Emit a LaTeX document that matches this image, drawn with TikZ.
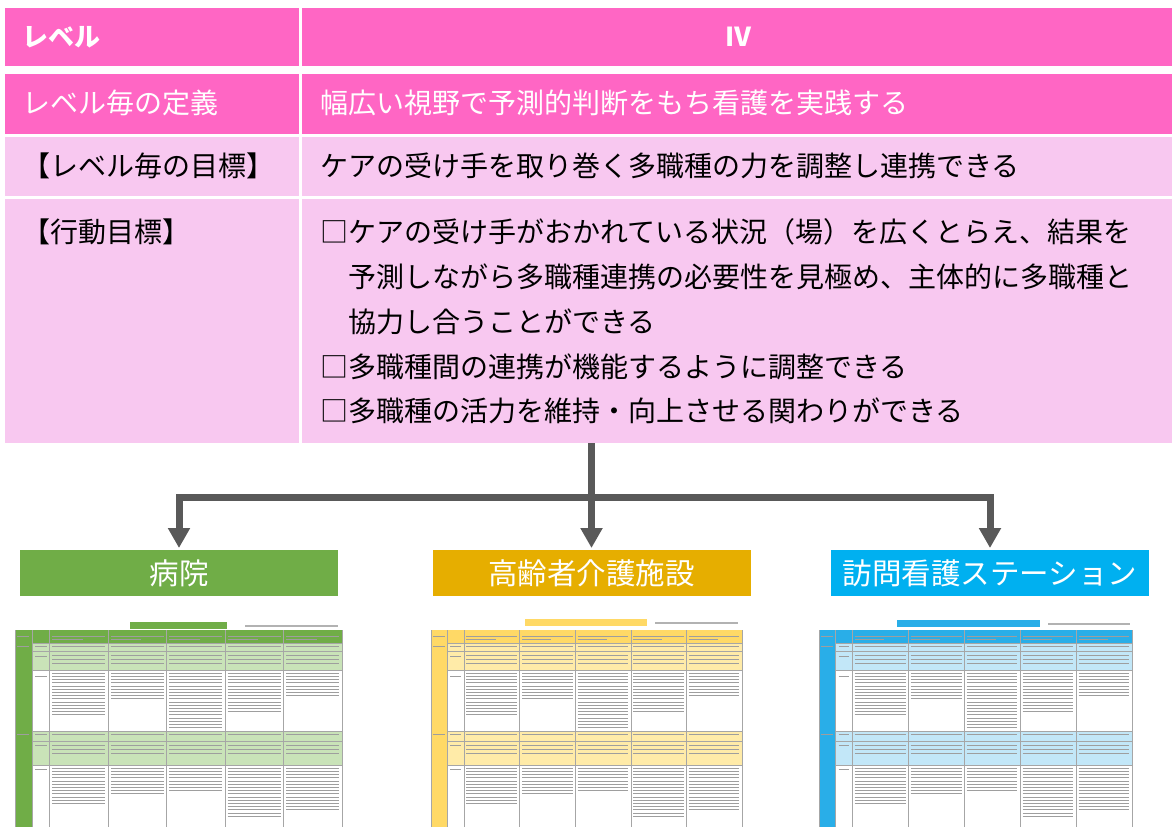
\documentclass[tikz,border=0pt]{standalone}
\usepackage{fontspec}
\setmainfont{Noto Sans CJK JP}
\usetikzlibrary{arrows.meta}
\definecolor{pinkD}{HTML}{FF66C4}
\definecolor{pinkL}{HTML}{F8C8F0}
\definecolor{arrowgray}{HTML}{595959}
\definecolor{hospG}{HTML}{70AD47}
\definecolor{careY}{HTML}{E6AE00}
\definecolor{visitB}{HTML}{00B0F0}
\definecolor{thG}{HTML}{70AD47}
\definecolor{thGl}{HTML}{C9E3B8}
\definecolor{thY}{HTML}{FFD966}
\definecolor{thYl}{HTML}{FFEBA8}
\definecolor{thB}{HTML}{29AEE8}
\definecolor{thBl}{HTML}{C2E7F8}
\newcommand\thumbgrid[2]{%
 \fill[#1] (0,630) rectangle (320,643);
 \fill[#1] (0,643) rectangle (17,827);
 \fill[#2] (17,643) rectangle (320,670);
 \fill[#2] (17,731) rectangle (320,765);
 \foreach \yy in {643,651,670,731,741,765} \draw[thgrid] (17,\yy) -- (320,\yy);
 \foreach \xx in {17,34,91.2,148.4,205.6,262.8,320} \draw[thgrid] (\xx,630) -- (\xx,827);
 \draw[thgrid] (0,630) -- (0,827);
 \foreach \yy in {646.5,656,676,734.5,745,769} \draw[thtext] (20,\yy) -- (31,\yy);
 \draw[thtext] (2,636) -- (14,636);
 \draw[thtext] (2,646.5) -- (14,646.5);
 \draw[thtext] (2,734.5) -- (14,734.5);
 \foreach \c/\na/\nb in {0/14/12,1/9/9,2/18/8,3/13/16,4/8/14} {
   \pgfmathsetmacro\xa{36.5+57.2*\c}
   \pgfmathsetmacro\xb{\xa+52}
   \draw[thtext] (\xa,636.5) -- (\xb,636.5);
   \draw[thtext] (\xa,639.5) -- (\xa+30,639.5);
   \foreach \yy in {646.5,655,659,663,734.5,745,749,753} \draw[thtext] (\xa,\yy) -- (\xb,\yy);
   \foreach \k in {1,...,\na} \draw[thtext] (\xa,670+3.2*\k) -- (\xb,670+3.2*\k);
   \foreach \k in {1,...,\nb} \draw[thtext] (\xa,765+3.2*\k) -- (\xb,765+3.2*\k);
 }
}
\begin{document}
\begin{tikzpicture}[x=1pt,y=-1pt,
  cellbox/.style={rectangle, inner sep=0pt, outer sep=0pt, draw=none},
  lbl/.style={inner sep=0pt, anchor=west, font=\fontsize{28}{34}\selectfont},
  conn/.style={draw=arrowgray, line width=7pt, -{Triangle[width=21pt,length=20pt]}, shorten >=2pt},
  place/.style={rectangle, inner sep=0pt, outer sep=0pt, minimum width=318pt, minimum height=46pt, text=white, font=\fontsize{29.5}{34}\selectfont},
  thgrid/.style={draw=black!35, line width=0.5pt},
  thtext/.style={draw=black!38, line width=0.8pt}]
\useasboundingbox (0,0) rectangle (1174,827);
\fill[white] (0,0) rectangle (1174,827);
% table cells
\node[cellbox, fill=pinkD, minimum width=294pt, minimum height=58pt] (h1l) at (152,37) {};
\node[cellbox, fill=pinkD, minimum width=870pt, minimum height=58pt] (h1r) at (737,37) {};
\node[cellbox, fill=pinkD, minimum width=294pt, minimum height=60pt] (h2l) at (152,104) {};
\node[cellbox, fill=pinkD, minimum width=870pt, minimum height=60pt] (h2r) at (737,104) {};
\node[cellbox, fill=pinkL, minimum width=294pt, minimum height=59pt] (h3l) at (152,166.5) {};
\node[cellbox, fill=pinkL, minimum width=870pt, minimum height=59pt] (h3r) at (737,166.5) {};
\node[cellbox, fill=pinkL, minimum width=294pt, minimum height=244pt] (h4l) at (152,321) {};
\node[cellbox, fill=pinkL, minimum width=870pt, minimum height=244pt] (h4r) at (737,321) {};
% table texts
\node[lbl, text=white, font=\fontsize{26}{30}\selectfont\bfseries] (tLevel) at (22,37) {レベル};
\node[inner sep=0pt, text=white, font=\fontsize{26}{30}\selectfont\bfseries] (tIV) at (738,37) {Ⅳ};
\node[lbl, text=white] (tDef) at (22,103) {レベル毎の定義};
\node[lbl, text=white] (tDefV) at (320,103) {幅広い視野で予測的判断をもち看護を実践する};
\node[lbl] (tGoal) at (22,166) {【レベル毎の目標】};
\node[lbl] (tGoalV) at (320,166) {ケアの受け手を取り巻く多職種の力を調整し連携できる};
\node[lbl] (tAct) at (22,232) {【行動目標】};
\node[lbl] (tA1) at (320,232) {□ケアの受け手がおかれている状況（場）を広くとらえ、結果を};
\node[lbl] (tA2) at (348,277) {予測しながら多職種連携の必要性を見極め、主体的に多職種と};
\node[lbl] (tA3) at (348,322) {協力し合うことができる};
\node[lbl] (tA4) at (320,367) {□多職種間の連携が機能するように調整できる};
\node[lbl] (tA5) at (320,411) {□多職種の活力を維持・向上させる関わりができる};
% place boxes
\node[place, fill=hospG] (hosp) at (179,573) {病院};
\node[place, fill=careY] (care) at (591.5,573) {高齢者介護施設};
\node[place, fill=visitB] (visit) at (990,573) {訪問看護ステーション};
% connectors
\coordinate (tr) at (591.5,443);
\coordinate (jn) at (591.5,497.5);
\draw[conn] (tr) -- (care.north);
\draw[conn] (jn) -| (hosp.north);
\draw[conn] (jn) -| (visit.north);
% thumbnails
\fill[thG] (130,622) rectangle (227,628.5);
\draw[draw=black!30, line width=2pt] (245,625.5) -- (338,625.5);
\begin{scope}[shift={(15,0)}, xscale=327/320]
 \thumbgrid{thG}{thGl}
\end{scope}
\fill[thY] (525,619) rectangle (647,625.5);
\draw[draw=black!30, line width=2pt] (655,622.5) -- (738,622.5);
\begin{scope}[shift={(431,0)}, xscale=311/320]
 \thumbgrid{thY}{thYl}
\end{scope}
\fill[thB] (897,620) rectangle (1040,626.5);
\draw[draw=black!30, line width=2pt] (1048,623.5) -- (1130,623.5);
\begin{scope}[shift={(819,0)}, xscale=313/320]
 \thumbgrid{thB}{thBl}
\end{scope}
\end{tikzpicture}
\end{document}
